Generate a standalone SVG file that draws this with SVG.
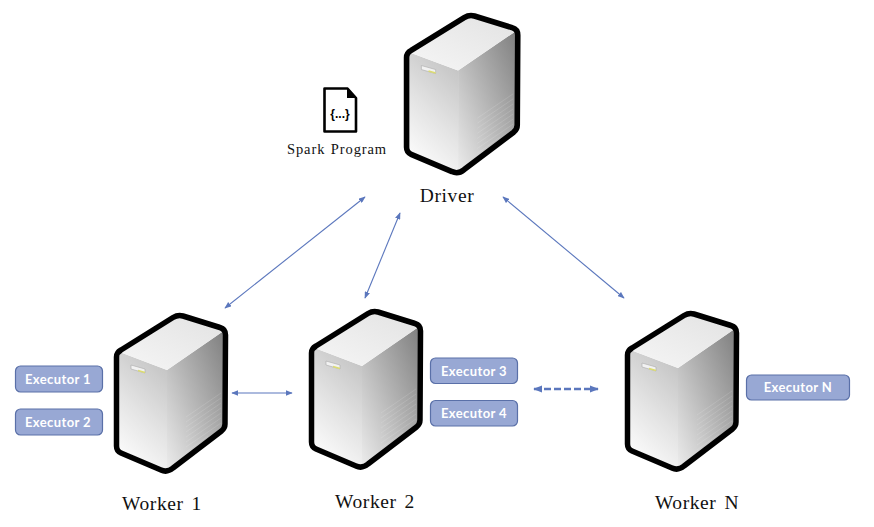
<svg xmlns="http://www.w3.org/2000/svg" xmlns:xlink="http://www.w3.org/1999/xlink" width="874" height="527" viewBox="0 0 874 527">
<style>
.lbl{font-family:"Liberation Serif","DejaVu Serif",serif;font-size:19.5px;fill:#111;text-anchor:middle;letter-spacing:.6px;word-spacing:2.5px}
.ex rect{fill:#98a8d4;stroke:#5a70a8;stroke-width:1.2}
.ex text{font-family:Lato,"Open Sans",sans-serif;font-weight:700;font-size:13px;fill:#fff;text-anchor:middle;letter-spacing:.4px}
.c{fill:none;stroke:#5b77bd;stroke-width:1.1;marker-start:url(#a);marker-end:url(#a)}
.d{stroke-width:2.300;stroke-dasharray:7 3;marker-start:url(#a2);marker-end:url(#a2)}
.v{stroke:#fff;stroke-opacity:.16;stroke-width:.8;fill:none}
</style>
<defs>
<marker id="a" viewBox="0 0 10 8" refX="9" refY="4" markerWidth="7" markerHeight="5.500" markerUnits="userSpaceOnUse" orient="auto-start-reverse"><path d="M0 0L10 4L0 8Z" fill="#5b77bd"/></marker>
<marker id="a2" viewBox="0 0 10 8" refX="9" refY="4" markerWidth="9" markerHeight="7.500" markerUnits="userSpaceOnUse" orient="auto-start-reverse"><path d="M0 0L10 4L0 8Z" fill="#5b77bd"/></marker>
<linearGradient id="gf" x1=".2" y1="1" x2=".6" y2="0"><stop offset="0" stop-color="#ffffff"/><stop offset=".5" stop-color="#e4e4e4"/><stop offset="1" stop-color="#c6c6c6"/></linearGradient>
<linearGradient id="gr" x1="0" y1="1" x2="1" y2="0"><stop offset="0" stop-color="#ececec"/><stop offset=".5" stop-color="#b4b4b4"/><stop offset="1" stop-color="#7e7e7e"/></linearGradient>
<linearGradient id="gt" x1="0" y1="1" x2="1" y2="0"><stop offset="0" stop-color="#f6f6f6"/><stop offset="1" stop-color="#e2e2e2"/></linearGradient>
<g id="server">
<path d="M4 38L54 57L54 158L4 136Z" fill="url(#gf)"/>
<path d="M54 57L112 17L112 114L54 158Z" fill="url(#gr)"/>
<path d="M4 38L64 2L112 17L54 57Z" fill="url(#gt)"/>
<path d="M18 52L32 56L32 60L18 56Z" fill="#f2f2f2" stroke="#aaa" stroke-width=".6"/>
<path d="M25 57.500L32 59.500" stroke="#dcdc70" stroke-width="1.500"/>
<path class="v" d="M73 104L108 80M73 109L108 85M73 114L108 90M73 119L108 95M73 124L108 100M73 129L108 105M73 134L108 110M73 139L95 123"/>
<path d="M8 37L60 4.500Q65 1.500 70 3L107 14.500Q112.500 16 112.500 22L112 111Q112 115 108.500 118L60 155Q54 160 48 157L8 140Q3.500 138 3.500 133L3.500 44Q3.500 39.500 8 37Z" fill="none" stroke="#000" stroke-width="5.500" stroke-linejoin="round"/>
</g>
</defs>
<rect width="874" height="527" fill="#fff"/>
<g id="connectors">
<path class="c" d="M365 197L225 308"/>
<path class="c" d="M400 213L365 298"/>
<path class="c" d="M503 197L624 298"/>
<path class="c" d="M232 393L292 393"/>
<path class="c d" d="M534 389L598 389"/>
</g>
<g id="spark-program">
<path d="M324.500 88.500H347.500L356 98V131.500H324.500Z" fill="#fff" stroke="#000" stroke-width="2.600" stroke-linejoin="round"/>
<path d="M347 87.500L357 98H347Z" fill="#000"/>
<text x="340" y="118" font-family="'Liberation Sans',sans-serif" font-weight="700" font-size="12" text-anchor="middle" fill="#000">{...}</text>
<text x="337" y="154" class="lbl" style="font-size:14.500px;letter-spacing:.9px;word-spacing:1px">Spark Program</text>
</g>
<g id="driver">
<use xlink:href="#server" href="#server" transform="translate(403 13) scale(1.020 1.010)"/>
<text x="447" y="202" class="lbl">Driver</text>
</g>
<g id="worker-1">
<use xlink:href="#server" href="#server" transform="translate(113 313)"/>
<text x="162" y="510" class="lbl">Worker 1</text>
<g class="ex"><rect x="15.500" y="366" width="87" height="26" rx="5"/><text x="58" y="384">Executor 1</text></g>
<g class="ex"><rect x="15.500" y="409" width="87" height="26" rx="5"/><text x="58" y="427">Executor 2</text></g>
</g>
<g id="worker-2">
<use xlink:href="#server" href="#server" transform="translate(308 309)"/>
<text x="375" y="508" class="lbl">Worker 2</text>
<g class="ex"><rect x="430.500" y="358" width="87" height="25.500" rx="5"/><text x="474" y="375.500">Executor 3</text></g>
<g class="ex"><rect x="430.500" y="400.500" width="87" height="25.500" rx="5"/><text x="474" y="418">Executor 4</text></g>
</g>
<g id="worker-n">
<use xlink:href="#server" href="#server" transform="translate(624 311)"/>
<text x="697" y="509" class="lbl">Worker N</text>
<g class="ex"><rect x="746.500" y="375" width="103" height="25" rx="5"/><text x="798" y="392">Executor N</text></g>
</g>
</svg>
